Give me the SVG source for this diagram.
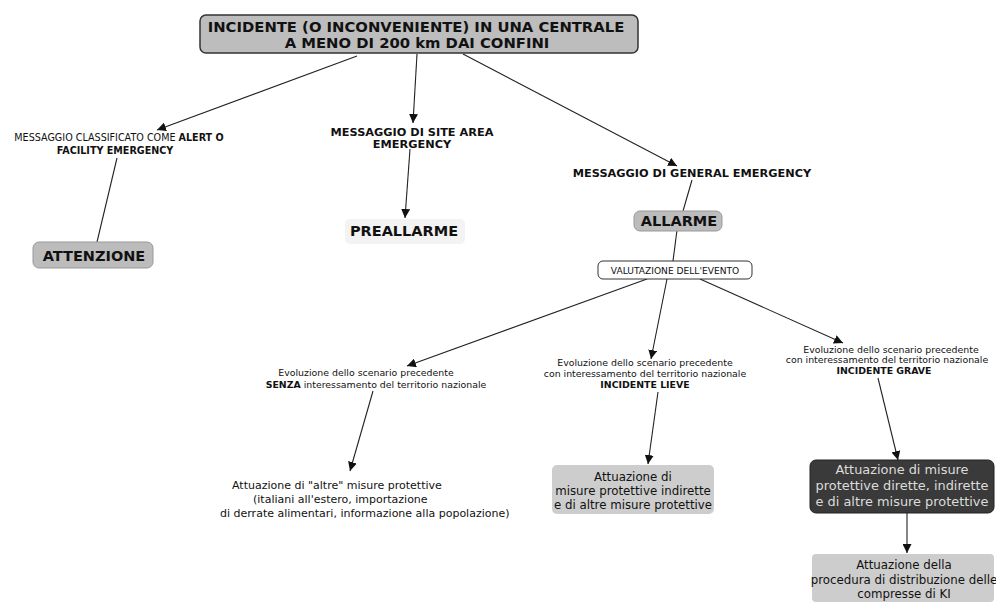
<svg xmlns="http://www.w3.org/2000/svg" width="996" height="602" viewBox="0 0 996 602">
<defs>
<marker id="ah" viewBox="0 0 10 10" refX="10" refY="5" markerWidth="9" markerHeight="9" markerUnits="userSpaceOnUse" orient="auto">
<path d="M0,0 L10,5 L0,10 z" fill="#111"/>
</marker>
</defs>
<style>
text{font-family:"DejaVu Sans","Liberation Sans",sans-serif;fill:#111;text-anchor:middle}
.b{font-weight:bold}
.t{font-size:14.8px;font-weight:bold}
.big{font-size:14.5px;font-weight:bold}
.lab{font-size:11.3px;font-weight:bold}
.sm{font-size:9.4px}
.cap{font-size:9.6px}
.mid{font-size:11px}
.st{text-anchor:start}
.conn line{stroke:#222;stroke-width:1.1}
.arr{marker-end:url(#ah)}
.gbox{fill:#bcbcbc;stroke:#999;stroke-width:1}
.lbox{fill:#cdcdcd;stroke:none}
.dk{fill:#dcdcdc;font-size:12.9px}
.bx{font-size:11.8px}
</style>
<rect width="996" height="602" fill="#fff"/>

<g class="conn">
<line class="arr" x1="357" y1="56" x2="157" y2="130"/>
<line class="arr" x1="417" y1="54" x2="413" y2="123"/>
<line class="arr" x1="463" y1="54" x2="677" y2="166"/>
<line x1="117" y1="158" x2="97" y2="242"/>
<line class="arr" x1="410" y1="149" x2="405" y2="218"/>
<line x1="692" y1="180" x2="683" y2="211"/>
<line x1="677" y1="230" x2="673" y2="261"/>
<line class="arr" x1="647" y1="279" x2="407" y2="366"/>
<line class="arr" x1="667" y1="279" x2="651" y2="359"/>
<line class="arr" x1="700" y1="279" x2="843" y2="343"/>
<line class="arr" x1="373" y1="391" x2="350" y2="471"/>
<line class="arr" x1="658" y1="392" x2="648" y2="464"/>
<line class="arr" x1="878" y1="378" x2="898" y2="460"/>
<line class="arr" x1="907" y1="513" x2="907" y2="553"/>
</g>

<g id="n-incidente">
<rect x="200" y="15" width="438" height="38" rx="6" fill="#bdbdbd" stroke="#333" stroke-width="1.5"/>
<text class="t" x="416" y="32">INCIDENTE (O INCONVENIENTE) IN UNA CENTRALE</text>
<text class="t" x="417" y="48">A MENO DI 200 km DAI CONFINI</text>
</g>

<g id="n-alert">
<text class="cap" x="119" y="141">MESSAGGIO CLASSIFICATO COME <tspan class="b">ALERT O</tspan></text>
<text class="cap b" x="115" y="154">FACILITY EMERGENCY</text>
</g>

<g id="n-attenzione">
<rect class="gbox" x="33" y="242" width="120" height="26" rx="6"/>
<text class="big" x="94" y="261">ATTENZIONE</text>
</g>

<g id="n-site">
<text class="lab" x="412" y="136">MESSAGGIO DI SITE AREA</text>
<text class="lab" x="412" y="148">EMERGENCY</text>
</g>

<g id="n-preallarme">
<rect x="345" y="219" width="120" height="25" rx="5" fill="#f3f3f3"/>
<text class="big" x="404" y="236">PREALLARME</text>
</g>

<g id="n-general">
<text class="lab" x="692" y="177">MESSAGGIO DI GENERAL EMERGENCY</text>
</g>

<g id="n-allarme">
<rect class="gbox" x="634" y="211" width="88" height="20" rx="6"/>
<text class="big" x="679" y="226">ALLARME</text>
</g>

<g id="n-valutazione">
<rect x="598" y="261" width="154" height="18" rx="5" fill="#fff" stroke="#333" stroke-width="1"/>
<text class="cap" x="675" y="273.5" style="font-size:9.1px">VALUTAZIONE DELL'EVENTO</text>
</g>

<g id="n-senza">
<text class="sm" x="366" y="376">Evoluzione dello scenario precedente</text>
<text class="sm" x="376" y="388"><tspan class="b">SENZA</tspan> interessamento del territorio nazionale</text>
</g>

<g id="n-lieve">
<text class="sm" x="645" y="366">Evoluzione dello scenario precedente</text>
<text class="sm" x="645" y="377">con interessamento del territorio nazionale</text>
<text class="sm b" x="645" y="388">INCIDENTE LIEVE</text>
</g>

<g id="n-grave">
<text class="sm" x="891" y="353">Evoluzione dello scenario precedente</text>
<text class="sm" x="887" y="363">con interessamento del territorio nazionale</text>
<text class="sm b" x="884" y="374">INCIDENTE GRAVE</text>
</g>

<g id="n-altre">
<text class="mid st" x="232" y="489">Attuazione di "altre" misure protettive</text>
<text class="mid st" x="253" y="503">(italiani all'estero, importazione</text>
<text class="mid st" x="220" y="517">di derrate alimentari, informazione alla popolazione)</text>
</g>

<g id="n-indirette">
<rect class="lbox" x="552" y="465" width="162" height="49" rx="5"/>
<text class="bx" x="633" y="481">Attuazione di</text>
<text class="bx" x="633" y="495">misure protettive indirette</text>
<text class="bx" x="633" y="509">e di altre misure protettive</text>
</g>

<g id="n-dirette">
<rect x="810" y="460" width="184" height="53" rx="6" fill="#3a3a3a" stroke="#222" stroke-width="1"/>
<text class="dk" x="902" y="474">Attuazione di misure</text>
<text class="dk" x="902" y="490">protettive dirette, indirette</text>
<text class="dk" x="902" y="506">e di altre misure protettive</text>
</g>

<g id="n-ki">
<rect class="lbox" x="812" y="554" width="182" height="48" rx="4"/>
<text class="bx" x="904" y="569">Attuazione della</text>
<text class="bx" x="904" y="584">procedura di distribuzione delle</text>
<text class="bx" x="904" y="598">compresse di KI</text>
</g>
</svg>
